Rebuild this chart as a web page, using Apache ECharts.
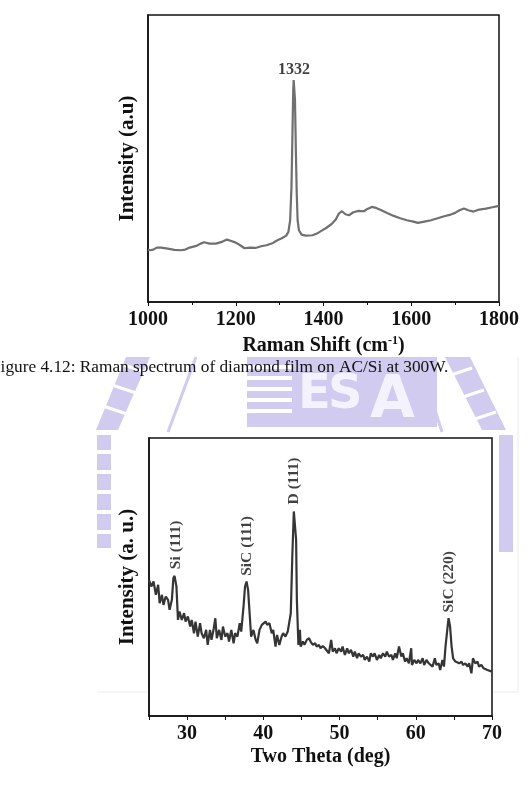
<!DOCTYPE html>
<html>
<head>
<meta charset="utf-8">
<script src="https://cdn.jsdelivr.net/npm/echarts@6/dist/echarts.min.js"></script>
<style>
  html, body { margin: 0; padding: 0; background: #fff; }
  #chart { width: 529px; height: 785px; }
</style>
</head>
<body>
<div id="chart"></div>
<script>
// Raman spectrum (top) - shift in cm-1, intensity in arbitrary units
const ramanShift = [1000, 1005, 1012, 1020, 1030, 1045, 1060, 1075, 1085, 1095, 1110, 1120, 1128, 1140, 1155, 1170, 1180, 1190, 1200, 1210, 1220, 1232, 1245, 1258, 1270, 1285, 1295, 1305, 1315, 1320, 1324, 1327, 1329, 1331, 1332, 1334, 1335, 1337, 1339, 1341, 1344, 1350, 1360, 1375, 1385, 1395, 1405, 1418, 1428, 1435, 1442, 1450, 1458, 1468, 1480, 1492, 1500, 1510, 1520, 1532, 1545, 1560, 1575, 1590, 1605, 1615, 1630, 1645, 1660, 1675, 1690, 1700, 1710, 1720, 1730, 1742, 1755, 1770, 1785, 1800];
const ramanIntensity = [157, 155, 157, 163, 163, 160, 156, 155, 157, 163, 168, 175, 179, 175, 175, 181, 187, 183, 178, 170, 161, 163, 162, 167, 170, 177, 185, 191, 199, 210, 245, 345, 485, 635, 665, 665, 605, 455, 325, 245, 215, 202, 199, 200, 205, 213, 221, 233, 247, 265, 272, 263, 260, 269, 273, 272, 279, 285, 282, 275, 267, 258, 251, 245, 241, 237, 241, 245, 251, 257, 262, 267, 275, 280, 275, 271, 277, 280, 284, 288];
const ramanPeak = [[1333, 665, '1332']];

// XRD pattern (bottom) - two theta in deg, intensity in arbitrary units
const twoTheta = [25.0, 25.3, 25.6, 25.9, 26.2, 26.4, 26.7, 26.9, 27.2, 27.5, 27.7, 28.0, 28.2, 28.35, 28.6, 28.8, 29.0, 29.3, 29.6, 29.8, 30.1, 30.4, 30.6, 30.9, 31.1, 31.4, 31.7, 31.9, 32.2, 32.5, 32.7, 33.0, 33.2, 33.5, 33.7, 33.9, 34.2, 34.5, 34.7, 35.0, 35.3, 35.5, 35.8, 36.1, 36.3, 36.6, 36.9, 37.1, 37.4, 37.6, 37.8, 38.0, 38.2, 38.4, 38.7, 39.0, 39.2, 39.5, 39.8, 40.0, 40.3, 40.5, 40.8, 41.1, 41.3, 41.6, 41.8, 42.1, 42.4, 42.6, 42.9, 43.2, 43.4, 43.6, 43.8, 44.0, 44.1, 44.3, 44.4, 44.6, 44.8, 44.9, 45.2, 45.4, 45.7, 46.0, 46.2, 46.5, 46.8, 47.0, 47.3, 47.5, 47.8, 48.1, 48.3, 48.6, 48.9, 49.1, 49.4, 49.6, 49.9, 50.2, 50.4, 50.7, 51.0, 51.2, 51.5, 51.8, 52.0, 52.3, 52.5, 52.8, 53.1, 53.3, 53.6, 53.9, 54.1, 54.4, 54.6, 54.9, 55.2, 55.4, 55.7, 56.0, 56.2, 56.5, 56.8, 57.0, 57.3, 57.5, 57.8, 58.1, 58.3, 58.6, 58.8, 59.1, 59.4, 59.5, 59.8, 60.1, 60.3, 60.6, 60.9, 61.1, 61.4, 61.7, 61.9, 62.2, 62.5, 62.7, 63.0, 63.2, 63.5, 63.7, 63.9, 64.2, 64.3, 64.5, 64.7, 64.9, 65.2, 65.4, 65.7, 66.0, 66.2, 66.5, 66.8, 67.0, 67.3, 67.5, 67.8, 68.1, 68.3, 68.6, 68.9, 69.1, 69.4, 69.6, 70.0];
const xrdIntensity = [408, 388, 403, 363, 393, 338, 363, 333, 358, 348, 318, 348, 413, 420, 388, 288, 313, 288, 308, 283, 298, 268, 288, 248, 283, 238, 278, 248, 233, 258, 213, 258, 228, 263, 293, 233, 258, 228, 268, 238, 248, 223, 258, 218, 248, 238, 278, 253, 328, 388, 403, 378, 308, 238, 258, 228, 218, 258, 273, 268, 283, 273, 278, 248, 258, 208, 243, 213, 238, 248, 238, 253, 248, 308, 478, 613, 616, 528, 348, 213, 258, 208, 223, 213, 228, 233, 223, 213, 218, 208, 213, 203, 210, 203, 208, 188, 228, 193, 203, 188, 203, 193, 208, 183, 203, 188, 198, 178, 193, 173, 188, 178, 183, 168, 178, 163, 188, 178, 188, 168, 183, 173, 188, 178, 193, 178, 183, 168, 188, 173, 208, 178, 188, 163, 173, 158, 203, 153, 168, 158, 168, 158, 173, 153, 168, 158, 163, 148, 173, 153, 158, 138, 168, 148, 208, 273, 293, 268, 208, 173, 163, 168, 158, 163, 153, 158, 148, 158, 128, 173, 158, 163, 148, 153, 143, 148, 138, 143, 133];
const xrdTicks = [30, 40, 50, 60, 70];
const xrdPeaks = [[28.6, 428, 'Si (111)'], [37.8, 408, 'SiC (111)'], [44.0, 622, 'D (111)'], [64.3, 298, 'SiC (220)']];

const serif = '"Liberation Serif", "DejaVu Serif", serif';
const lav = '#d0cbef';

function zip(xs, ys) {
  return xs.map((x, i) => [x, ys[i]]);
}

// watermark seal behind the lower chart (rough shapes)
function watermark() {
  const els = [];
  const dashY = [[435, 450], [454, 470], [474, 490], [494, 510], [514, 530], [534, 548]];
  dashY.forEach(d => {
    els.push({ type: 'rect', shape: { x: 97, y: d[0], width: 14, height: d[1] - d[0] }, style: { fill: lav }, z: -10 });
    els.push({ type: 'rect', shape: { x: 499, y: d[0], width: 14, height: d[1] - d[0] + 4 }, style: { fill: lav }, z: -10 });
  });
  // left / right diagonal bands
  els.push({ type: 'polygon', shape: { points: [[96, 430], [118, 430], [150, 357], [126, 357]] }, style: { fill: lav }, z: -10 });
  els.push({ type: 'polygon', shape: { points: [[445, 357], [470, 357], [506, 430], [482, 430]] }, style: { fill: lav }, z: -10 });
  [[100, 405], [112, 385], [124, 365]].forEach(p => {
    els.push({ type: 'line', shape: { x1: p[0], y1: p[1], x2: p[0] + 30, y2: p[1] + 10 }, style: { stroke: '#fff', lineWidth: 3 }, z: -9 });
  });
  [[470, 368], [482, 390], [494, 412]].forEach(p => {
    els.push({ type: 'line', shape: { x1: p[0] - 28, y1: p[1] + 10, x2: p[0] + 2, y2: p[1] }, style: { stroke: '#fff', lineWidth: 3 }, z: -9 });
  });
  // thin arcs
  els.push({ type: 'line', shape: { x1: 168, y1: 432, x2: 196, y2: 357 }, style: { stroke: lav, lineWidth: 3 }, z: -10 });
  els.push({ type: 'line', shape: { x1: 418, y1: 357, x2: 442, y2: 432 }, style: { stroke: lav, lineWidth: 3 }, z: -10 });
  // centre block with stripes and letters
  els.push({ type: 'rect', shape: { x: 247, y: 357, width: 190, height: 70 }, style: { fill: lav }, z: -10 });
  [365, 376, 387, 398, 409].forEach(y => {
    els.push({ type: 'rect', shape: { x: 247, y: y, width: 45, height: 4 }, style: { fill: '#fff' }, z: -9 });
  });
  els.push({ type: 'text', style: { x: 298, y: 396, text: 'E', fill: '#f4f2fc', font: 'bold 48px "DejaVu Sans"', verticalAlign: 'middle' }, z: -9 });
  els.push({ type: 'text', style: { x: 328, y: 396, text: 'S', fill: '#f4f2fc', font: 'bold 48px "DejaVu Sans"', verticalAlign: 'middle' }, z: -9 });
  els.push({ type: 'text', style: { x: 370, y: 402, text: 'A', fill: '#f4f2fc', font: 'bold 58px "DejaVu Sans"', verticalAlign: 'middle' }, z: -9 });
  // faint frame of the seal picture
  els.push({ type: 'line', shape: { x1: 97, y1: 692, x2: 518, y2: 692 }, style: { stroke: '#ececec', lineWidth: 1 }, z: -10 });
  els.push({ type: 'line', shape: { x1: 518, y1: 357, x2: 518, y2: 692 }, style: { stroke: '#ececec', lineWidth: 1 }, z: -10 });
  return els;
}

const axisLabelStyle = { fontFamily: serif, fontWeight: 'bold', fontSize: 20, color: '#111' };
const nameStyle = { fontFamily: serif, fontWeight: 'bold', fontSize: 20, color: '#111' };
const yNameStyle = { fontFamily: serif, fontWeight: 'bold', fontSize: 21, color: '#111' };

const chart = echarts.init(document.getElementById('chart'));
chart.setOption({
  backgroundColor: '#fff',
  animation: false,
  graphic: watermark().concat([
    { type: 'text', z: 5, style: { x: -9, y: 367, text: 'Figure 4.12: Raman spectrum of diamond film on AC/Si at 300W.', font: '17.3px "Liberation Serif"', fill: '#111', verticalAlign: 'middle' } }
  ]),
  grid: [
    { left: 148, top: 15, width: 351, height: 287, show: true, borderColor: '#111', borderWidth: 1.5, backgroundColor: 'transparent' },
    { left: 149, top: 438, width: 343, height: 278, show: true, borderColor: '#111', borderWidth: 1.5, backgroundColor: '#fff' }
  ],
  xAxis: [
    {
      gridIndex: 0, type: 'value', min: 1000, max: 1800, interval: 200,
      name: 'Raman Shift (cm{sup|-1})', nameLocation: 'middle', nameGap: 33,
      nameTextStyle: Object.assign({}, nameStyle, {
        rich: { sup: { fontFamily: serif, fontWeight: 'bold', fontSize: 12, color: '#111', verticalAlign: 'top', padding: [0, 0, 10, 0] } }
      }),
      axisLine: { lineStyle: { color: '#111', width: 1.5 } },
      axisTick: { inside: false, length: 4, lineStyle: { color: '#111' } },
      minorTick: { show: true, splitNumber: 2, length: 3, lineStyle: { color: '#111' } },
      splitLine: { show: false },
      axisLabel: Object.assign({ margin: 8, formatter: v => String(v) }, axisLabelStyle)
    },
    {
      gridIndex: 1, type: 'value', min: 25, max: 70, interval: 5,
      name: 'Two Theta (deg)', nameLocation: 'middle', nameGap: 31, nameTextStyle: nameStyle,
      axisLine: { lineStyle: { color: '#111', width: 1.5 } },
      axisTick: { inside: false, length: 4, lineStyle: { color: '#111' } },
      splitLine: { show: false },
      axisLabel: Object.assign({
        margin: 8,
        formatter: v => (xrdTicks.indexOf(v) >= 0 ? String(v) : '')
      }, axisLabelStyle)
    }
  ],
  yAxis: [
    {
      gridIndex: 0, type: 'value', min: 0, max: 860,
      name: 'Intensity (a.u)', nameLocation: 'middle', nameGap: 10, nameTextStyle: yNameStyle,
      axisLine: { show: true, lineStyle: { color: '#111', width: 1.5 } },
      axisTick: { show: false }, axisLabel: { show: false }, splitLine: { show: false }
    },
    {
      gridIndex: 1, type: 'value', min: 0, max: 833,
      name: 'Intensity (a. u.)', nameLocation: 'middle', nameGap: 11, nameTextStyle: yNameStyle,
      axisLine: { show: true, lineStyle: { color: '#111', width: 1.5 } },
      axisTick: { show: false }, axisLabel: { show: false }, splitLine: { show: false }
    }
  ],
  series: [
    {
      type: 'line', xAxisIndex: 0, yAxisIndex: 0, data: zip(ramanShift, ramanIntensity),
      showSymbol: false, lineStyle: { color: '#707070', width: 2.2 }
    },
    {
      type: 'scatter', xAxisIndex: 0, yAxisIndex: 0, data: ramanPeak, symbolSize: 0,
      label: { show: true, position: 'top', distance: 2, formatter: p => p.data[2], fontFamily: serif, fontWeight: 'bold', fontSize: 16, color: '#111' }
    },
    {
      type: 'line', xAxisIndex: 1, yAxisIndex: 1, data: zip(twoTheta, xrdIntensity),
      showSymbol: false, lineStyle: { color: '#353535', width: 2.2 }
    },
    {
      type: 'scatter', xAxisIndex: 1, yAxisIndex: 1, data: xrdPeaks, symbolSize: 0,
      label: { show: true, position: 'top', distance: 4, rotate: 90, align: 'left', verticalAlign: 'middle', formatter: p => p.data[2], fontFamily: serif, fontWeight: 'bold', fontSize: 15.5, color: '#111' }
    }
  ]
});
</script>
</body>
</html>
